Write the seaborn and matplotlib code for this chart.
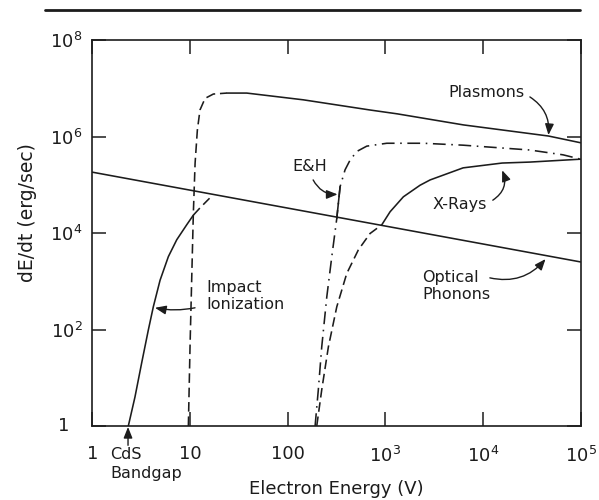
import numpy as np
import pandas as pd
import matplotlib
matplotlib.use("Agg")
import matplotlib.pyplot as plt
from matplotlib.lines import Line2D
import seaborn as sns

sns.set_theme(style="ticks")
plt.rcParams["font.family"] = ["DejaVu Sans"]
plt.rcParams["mathtext.default"] = "regular"

INK = "#1c1c1c"

# ---- data: log10(electron energy / V), log10(dE/dt / erg s^-1)
phonon_logE = [0.0, 5.0]
phonon_logR = [5.26, 3.40]

plasmon_rise_logE = [0.982, 0.999, 1.016, 1.033, 1.051, 1.074, 1.101, 1.153, 1.238, 1.375]
plasmon_rise_logR = [0.0, 1.64, 3.03, 4.41, 5.45, 6.13, 6.55, 6.79, 6.88, 6.90]
plasmon_logE = [1.375, 1.58, 2.16, 2.84, 3.12, 3.8, 4.67, 5.0]
plasmon_logR = [6.90, 6.90, 6.76, 6.55, 6.47, 6.24, 6.01, 5.87]

impact_logE = [0.367, 0.435, 0.504, 0.572, 0.623, 0.692, 0.777, 0.863, 0.965, 1.033]
impact_logR = [0.0, 0.60, 1.31, 1.99, 2.47, 3.02, 3.51, 3.86, 4.17, 4.37]
impact_tail_logE = [1.033, 1.101, 1.199]
impact_tail_logR = [4.37, 4.52, 4.72]

eh_logE = [2.28, 2.313, 2.348, 2.40, 2.451, 2.502, 2.536, 2.587, 2.638, 2.707, 2.809,
           3.014, 3.389, 3.796, 4.48, 4.82, 5.0]
eh_logR = [0.0, 0.75, 1.64, 2.68, 3.51, 4.30, 4.96, 5.31, 5.51, 5.69, 5.80,
           5.86, 5.86, 5.82, 5.72, 5.62, 5.53]
eh_solid_logE = [2.502, 2.536]
eh_solid_logR = [4.30, 4.96]

xray_rise_logE = [2.297, 2.348, 2.416, 2.502, 2.604, 2.723, 2.843, 2.963]
xray_rise_logR = [0.0, 0.75, 1.64, 2.47, 3.16, 3.65, 3.99, 4.17]
xray_logE = [2.963, 3.048, 3.184, 3.355, 3.458, 3.796, 4.196, 4.48, 5.0]
xray_logR = [4.17, 4.44, 4.75, 4.99, 5.10, 5.35, 5.45, 5.47, 5.53]

x_ticks = [1, 10, 100, 1e3, 1e4, 1e5]
x_ticklabels = ["1", "10", "100", "$10^3$", "$10^4$", "$10^5$"]
y_ticks = [1, 1e2, 1e4, 1e6, 1e8]
y_ticklabels = ["", "$10^2$", "$10^4$", "$10^6$", "$10^8$"]


def frame(logE, logR):
    return pd.DataFrame({"E": np.power(10.0, logE), "R": np.power(10.0, logR)})


fig = plt.figure(figsize=(5.99, 5.0), dpi=100)
fig.patch.set_facecolor("white")
ax = fig.add_axes([0.1544, 0.148, 0.815, 0.772])
ax.set_facecolor("white")

LW = 1.15
DASH = (0, (6, 3))
DASHDOT = (0, (8, 3.5, 1, 3.5))

curves = [
    (phonon_logE, phonon_logR, "-"),
    (plasmon_rise_logE, plasmon_rise_logR, DASH),
    (plasmon_logE, plasmon_logR, "-"),
    (impact_logE, impact_logR, "-"),
    (impact_tail_logE, impact_tail_logR, DASH),
    (eh_logE, eh_logR, DASHDOT),
    (eh_solid_logE, eh_solid_logR, "-"),
    (xray_rise_logE, xray_rise_logR, DASH),
    (xray_logE, xray_logR, "-"),
]
for lE, lR, ls in curves:
    sns.lineplot(data=frame(lE, lR), x="E", y="R", ax=ax, color=INK, lw=LW,
                 linestyle=ls, sort=False, estimator=None)

ax.set_xscale("log")
ax.set_yscale("log")
ax.set_xlim(1, 1e5)
ax.set_ylim(1, 1e8)
ax.set_xticks(x_ticks)
ax.set_xticklabels(x_ticklabels)
ax.set_yticks(y_ticks)
ax.set_yticklabels(y_ticklabels)
ax.minorticks_off()
ax.tick_params(axis="both", which="major", direction="in", length=10, width=1.1,
               top=True, right=True, colors=INK, labelsize=13)
ax.tick_params(axis="x", pad=14)
ax.tick_params(axis="y", pad=7)
for s in ax.spines.values():
    s.set_color(INK)
    s.set_linewidth(1.2)

# "1" label on the y axis sits left of the others
ax.text(-0.060, 0.0, "1", transform=ax.transAxes, ha="center", va="center",
        fontsize=13, color=INK)

ax.set_xlabel("Electron Energy (V)", fontsize=13, color=INK)
ax.set_ylabel("dE/dt (erg/sec)", fontsize=13.5, color=INK)
ax.xaxis.label.set_verticalalignment("baseline")
ax.xaxis.set_label_coords(0.5, -0.177)
ax.yaxis.set_label_coords(-0.114, 0.552)

# page rule above the chart
fig.add_artist(Line2D([0.075, 0.968], [0.98, 0.98], transform=fig.transFigure,
                      color=INK, lw=2.0))

TXT = 11.5


def arrow(x0, y0, x1, y1, rad):
    ax.annotate("", xy=(10 ** x1, 10 ** y1), xytext=(10 ** x0, 10 ** y0),
                arrowprops=dict(arrowstyle="-|>,head_length=0.55,head_width=0.22",
                                connectionstyle=f"arc3,rad={rad}", color=INK,
                                lw=1.0, shrinkA=0, shrinkB=0),
                annotation_clip=False)


ax.text(10 ** 4.03, 10 ** 6.92, "Plasmons", ha="center", va="center", fontsize=TXT, color=INK)
arrow(4.48, 6.82, 4.67, 6.03, -0.3)

ax.text(10 ** 2.23, 10 ** 5.37, "E&H", ha="center", va="center", fontsize=TXT, color=INK)
arrow(2.26, 5.10, 2.51, 4.80, 0.3)

ax.text(10 ** 3.76, 10 ** 4.60, "X-Rays", ha="center", va="center", fontsize=TXT, color=INK)
arrow(4.10, 4.68, 4.196, 5.30, 0.4)

ax.text(10 ** 3.38, 10 ** 2.90, "Optical\nPhonons", ha="left", va="center", fontsize=TXT,
        color=INK, linespacing=1.15)
arrow(4.07, 3.07, 4.64, 3.46, 0.3)

ax.text(10 ** 1.163, 10 ** 2.69, "Impact\nIonization", ha="left", va="center", fontsize=TXT,
        color=INK, linespacing=1.15)
arrow(1.05, 2.45, 0.64, 2.45, -0.1)

ax.text(10 ** 0.18, 10 ** -0.60, "CdS", ha="left", va="center", fontsize=TXT,
        color=INK, clip_on=False)
ax.text(10 ** 0.18, 10 ** -0.98, "Bandgap", ha="left", va="center", fontsize=TXT,
        color=INK, clip_on=False)
arrow(0.364, -0.40, 0.364, -0.02, 0.0)

fig.savefig("out.png", dpi=100, facecolor="white")
